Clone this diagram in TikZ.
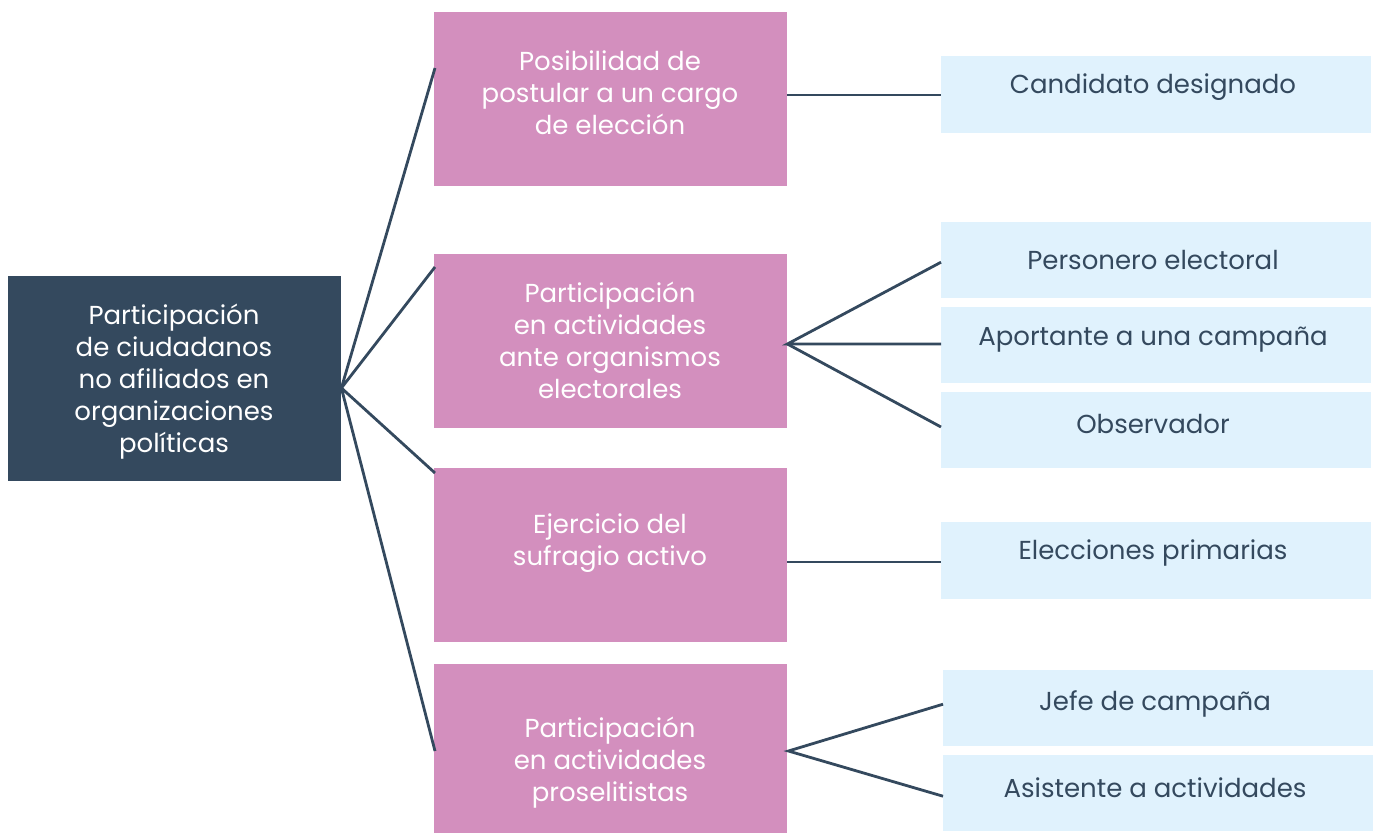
\documentclass[tikz,border=0pt]{standalone}
\usepackage{fontspec}
\setmainfont{Poppins}
\usetikzlibrary{calc}
\definecolor{dark}{HTML}{34495E}
\definecolor{pink}{HTML}{D38FBE}
\definecolor{pale}{HTML}{E0F2FD}
\begin{document}
\begin{tikzpicture}[x=1pt,y=-1pt,
  box/.style={draw=none,inner sep=0pt,anchor=north west},
  txt/.style={align=center,font=\fontsize{26}{32}\selectfont},
  conn/.style={draw=dark,line width=2.8pt}]
\useasboundingbox (0,0) rectangle (1383,833);
% left box
\node[box,fill=dark,minimum width=333pt,minimum height=205pt] (L) at (8,276) {};
\node[txt,text=white] (Lt) at (174,382) {Participación\\de ciudadanos\\no afiliados en\\organizaciones\\políticas};
% pink boxes
\node[box,fill=pink,minimum width=353pt,minimum height=174pt] (P1) at (434,12) {};
\node[box,fill=pink,minimum width=353pt,minimum height=174pt] (P2) at (434,254) {};
\node[box,fill=pink,minimum width=353pt,minimum height=174pt] (P3) at (434,468) {};
\node[box,fill=pink,minimum width=353pt,minimum height=169pt] (P4) at (434,664) {};
\node[txt,text=white] (P1t) at (610,93) {Posibilidad de\\postular a un cargo\\de elección};
\node[txt,text=white] (P2t) at (610,340) {Participación\\en actividades\\ante organismos\\electorales};
\node[txt,text=white] (P3t) at (610,543) {Ejercicio del\\sufragio activo};
\node[txt,text=white] (P4t) at (610,763) {Participación\\en actividades\\proselitistas};
% blue boxes
\node[box,fill=pale,minimum width=430pt,minimum height=77pt] (B1) at (941,56) {};
\node[box,fill=pale,minimum width=430pt,minimum height=76pt] (B2) at (941,222) {};
\node[box,fill=pale,minimum width=430pt,minimum height=76pt] (B3) at (941,307) {};
\node[box,fill=pale,minimum width=430pt,minimum height=76pt] (B4) at (941,392) {};
\node[box,fill=pale,minimum width=430pt,minimum height=77pt] (B5) at (941,522) {};
\node[box,fill=pale,minimum width=430pt,minimum height=76pt] (B6) at (943,670) {};
\node[box,fill=pale,minimum width=430pt,minimum height=76pt] (B7) at (943,755) {};
\node[txt,text=dark] (B1t) at (1153,87) {Candidato designado};
\node[txt,text=dark] (B2t) at (1153,260) {Personero electoral};
\node[txt,text=dark] (B3t) at (1153,340) {Aportante a una campaña};
\node[txt,text=dark] (B4t) at (1153,424) {Observador};
\node[txt,text=dark] (B5t) at (1153,553) {Elecciones primarias};
\node[txt,text=dark] (B6t) at (1155,704) {Jefe de campaña};
\node[txt,text=dark] (B7t) at (1155,788) {Asistente a actividades};
% connector points
\coordinate (o) at ($(L.north east)+(0,112)$);
\coordinate (p1) at ($(P1.north west)+(1,56)$);
\coordinate (p2) at ($(P2.north west)+(1,13)$);
\coordinate (p3) at ($(P3.north west)+(1,5)$);
\coordinate (p4) at ($(P4.north west)+(1,87)$);
\draw[conn] (p1) -- (o) -- (p2);
\draw[conn] (p3) -- (o) -- (p4);
\coordinate (q2) at ($(P2.north east)+(0,90)$);
\coordinate (q4) at ($(P4.north east)+(1,87)$);
\coordinate (q1) at ($(P1.north east)+(0,83)$);
\coordinate (q3) at ($(P3.north east)+(0,94)$);
\coordinate (b2) at ($(B2.west)+(0,2)$);
\draw[conn] (q1) -- (B1.west |- q1);
\draw[conn] (b2) -- (q2) -- (B3.west |- q2);
\draw[conn] (q2) -- ($(B4.north west)+(0,35)$);
\draw[conn] (q3) -- (B5.west |- q3);
\draw[conn] ($(B6.west)+(0,-4)$) -- (q4) -- ($(B7.west)+(0,3)$);
\end{tikzpicture}
\end{document}
